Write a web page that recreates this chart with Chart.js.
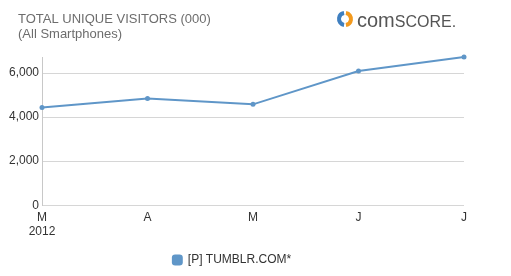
<!doctype html>
<html lang="en">
<head>
<meta charset="utf-8">
<title>Total Unique Visitors</title>
<script src="https://cdn.jsdelivr.net/npm/chart.js"></script>
<style>
  html, body { margin: 0; padding: 0; background: #fff; }
  #wrap { width: 511px; height: 276px; position: relative; }
</style>
</head>
<body>
<div id="wrap"><canvas id="visitors"></canvas></div>
<script>
// data
const months = [['M', '2012'], 'A', 'M', 'J', 'J'];
const tumblr = [4440, 4850, 4580, 6090, 6730];
const yTicks = [0, 2000, 4000, 6000];
const seriesName = '[P] TUMBLR.COM*';
const titleLines = ['TOTAL UNIQUE VISITORS (000)', '(All Smartphones)'];

const FONT = '"Liberation Sans", Arial, sans-serif';
const BLUE = '#5f96c8';

// header text + logo
const header = {
  id: 'header',
  afterDraw(chart) {
    const c = chart.ctx;
    c.save();
    c.fillStyle = '#6d6d6d';
    c.font = '13px ' + FONT;
    c.textBaseline = 'middle';
    c.fillText(titleLines[0], 18, 19);
    c.fillText(titleLines[1], 18, 34);

    // logo icon
    const cx = 345, cy = 19;
    c.lineWidth = 4;
    c.strokeStyle = '#3f7fc0';
    c.beginPath(); c.arc(cx, cy, 6, Math.PI * 0.55, Math.PI * 1.45); c.stroke();
    c.strokeStyle = '#f39a1e';
    c.beginPath(); c.arc(cx, cy, 6, -Math.PI * 0.45, Math.PI * 0.45); c.stroke();

    c.fillStyle = '#555';
    c.font = '20px ' + FONT;
    c.textBaseline = 'alphabetic';
    c.fillText('com', 357, 27);
    const w = c.measureText('com').width;
    c.font = '16px ' + FONT;
    c.fillText('SCORE.', 357 + w, 27);
    c.restore();
  }
};

new Chart(document.getElementById('visitors'), {
  type: 'line',
  data: {
    labels: months,
    datasets: [{
      label: seriesName,
      data: tumblr,
      borderColor: BLUE,
      backgroundColor: BLUE,
      borderWidth: 2,
      pointRadius: 2.5,
      pointBackgroundColor: BLUE,
      pointBorderWidth: 0,
      tension: 0,
      clip: false
    }]
  },
  options: {
    responsive: true,
    maintainAspectRatio: false,
    animation: false,
    layout: { padding: { top: 57, right: 47, left: 0, bottom: 0 } },
    plugins: {
      legend: {
        position: 'bottom',
        labels: {
          usePointStyle: true,
          pointStyle: 'rectRounded',
          boxWidth: 9,
          boxHeight: 9,
          padding: 10,
          color: '#333',
          font: { family: FONT, size: 12 }
        }
      },
      tooltip: { enabled: false }
    },
    scales: {
      x: {
        offset: false,
        grid: { display: false, drawTicks: false },
        border: { display: false },
        ticks: {
          color: '#333',
          padding: 5,
          maxRotation: 0,
          autoSkip: false,
          font: { family: FONT, size: 12 }
        }
      },
      y: {
        min: 0,
        max: 6730,
        afterFit(s) { s.width = 42; },
        afterBuildTicks(s) { s.ticks = yTicks.map(v => ({ value: v })); },
        grid: { color: '#d6d6d6', drawTicks: false, lineWidth: 1 },
        border: { display: true, color: '#c8c8c8' },
        ticks: {
          color: '#333',
          padding: 3,
          font: { family: FONT, size: 12 },
          callback: v => v.toLocaleString('en-US')
        }
      }
    }
  },
  plugins: [header]
});
</script>
</body>
</html>
